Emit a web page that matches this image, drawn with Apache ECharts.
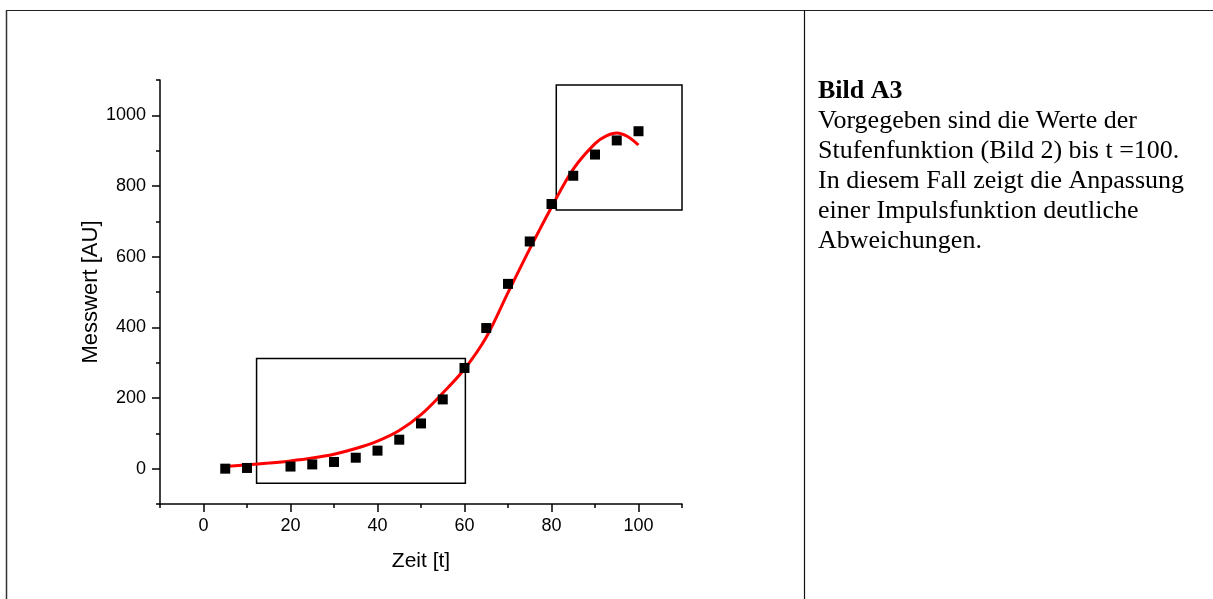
<!DOCTYPE html>
<html>
<head>
<meta charset="UTF-8">
<title>Bild A3</title>
<script src="https://cdn.jsdelivr.net/npm/echarts@6/dist/echarts.min.js"></script>
<style>
  html, body { margin: 0; padding: 0; background: #fff; }
  #main { width: 1213px; height: 599px; }
</style>
</head>
<body>
<div id="main"></div>
<script>
// measured points (step function values up to t = 100)
var zeit = [5, 10, 20, 25, 30, 35, 40, 45, 50, 55, 60, 65, 70, 75, 80, 85, 90, 95, 100];
var messwert = [0, 2, 6, 12, 19, 31, 51, 82, 128, 196, 285, 398, 523, 643, 749, 829, 889, 929, 955];

// fitted impulse function
var fitT = [5, 10, 15, 20, 25, 30, 35, 40, 45, 50, 55, 60, 65, 70, 75, 80, 85, 90, 92.5, 95, 97.5, 100];
var fitY = [6, 11, 16, 22, 30, 41, 57, 78, 108, 153, 214, 282, 372, 498, 622, 740, 848, 920, 941, 950, 940, 916];

// highlighted regions [tFrom, yFrom, tTo, yTo]
var boxes = [
  [12.2, -41, 60.2, 312],
  [81.1, 732, 110, 1086]
];

var xMajor = [0, 20, 40, 60, 80, 100];
var xMinor = [-10, 10, 30, 50, 70, 90, 110];
var yMajor = [0, 200, 400, 600, 800, 1000];
var yMinor = [-100, 100, 300, 500, 700, 900, 1100];

var captionTitle = 'Bild A3';
var captionLines = [
  'Vorgegeben sind die Werte der',
  'Stufenfunktion (Bild 2) bis t =100.',
  'In diesem Fall zeigt die Anpassung',
  'einer Impulsfunktion deutliche',
  'Abweichungen.'
];

var sans = '"Liberation Sans", Arial, sans-serif';
var serif = '"Liberation Serif", "Times New Roman", serif';

var myChart = echarts.init(document.getElementById('main'));

var graphics = [
  { type: 'line', shape: { x1: 6, y1: 10.5, x2: 1213, y2: 10.5 }, style: { stroke: '#222', lineWidth: 1.2 } },
  { type: 'line', shape: { x1: 6.5, y1: 10, x2: 6.5, y2: 599 }, style: { stroke: '#333', lineWidth: 1.5 } },
  { type: 'line', shape: { x1: 804.5, y1: 10, x2: 804.5, y2: 599 }, style: { stroke: '#111', lineWidth: 1.2 } },
  { type: 'text', x: 818, y: 91, style: { text: captionTitle, font: 'bold 26px ' + serif, fill: '#000', verticalAlign: 'middle' } }
];
captionLines.forEach(function (line, i) {
  graphics.push({
    type: 'text', x: 818, y: 121.5 + i * 30,
    style: { text: line, font: '26px ' + serif, fill: '#000', verticalAlign: 'middle' }
  });
});

function valueAxis(range, extra) {
  var base = {
    type: 'value',
    min: range[0],
    max: range[1],
    splitLine: { show: false },
    axisLine: { show: false, onZero: false }
  };
  return Object.assign(base, extra);
}

function plain(v) { return String(v); }

myChart.setOption({
  animation: false,
  grid: { left: 160, top: 80, width: 522, height: 424, containLabel: false, outerBoundsMode: 'none' },
  graphic: graphics,
  xAxis: [
    valueAxis([-10, 110], {
      position: 'bottom',
      name: 'Zeit [t]',
      nameLocation: 'middle',
      nameGap: 47,
      nameTextStyle: { fontFamily: sans, fontSize: 21, color: '#000' },
      axisLine: { show: true, onZero: false, lineStyle: { color: '#000', width: 1.5 } },
      axisTick: { show: true, length: 8, customValues: xMajor, lineStyle: { color: '#000', width: 1.5 } },
      axisLabel: { customValues: xMajor, margin: 13, fontFamily: sans, fontSize: 18, color: '#000', formatter: plain }
    }),
    valueAxis([-10, 110], {
      position: 'bottom',
      axisTick: { show: true, length: 4, customValues: xMinor, lineStyle: { color: '#000', width: 1.5 } },
      axisLabel: { show: false }
    })
  ],
  yAxis: [
    valueAxis([-100, 1100], {
      position: 'left',
      name: 'Messwert [AU]',
      nameLocation: 'middle',
      nameRotate: 90,
      nameGap: 54,
      nameTextStyle: { fontFamily: sans, fontSize: 22, color: '#000' },
      axisLine: { show: true, onZero: false, lineStyle: { color: '#000', width: 1.5 } },
      axisTick: { show: true, length: 8, customValues: yMajor, lineStyle: { color: '#000', width: 1.5 } },
      axisLabel: { customValues: yMajor, margin: 14, fontFamily: sans, fontSize: 18, color: '#000', formatter: plain }
    }),
    valueAxis([-100, 1100], {
      position: 'left',
      axisTick: { show: true, length: 4, customValues: yMinor, lineStyle: { color: '#000', width: 1.5 } },
      axisLabel: { show: false }
    })
  ],
  series: [
    {
      type: 'line',
      data: fitT.map(function (t, i) { return [t, fitY[i]]; }),
      smooth: 0.35,
      symbol: 'none',
      lineStyle: { color: '#ff0000', width: 3 },
      z: 3
    },
    {
      type: 'scatter',
      data: zeit.map(function (t, i) { return [t, messwert[i]]; }),
      symbol: 'rect',
      symbolSize: 10,
      itemStyle: { color: '#000', opacity: 1 },
      z: 4,
      markArea: {
        silent: true,
        itemStyle: { color: 'rgba(0,0,0,0)', borderColor: '#000', borderWidth: 1.5 },
        data: boxes.map(function (b) { return [{ coord: [b[0], b[1]] }, { coord: [b[2], b[3]] }]; })
      }
    }
  ]
});
</script>
</body>
</html>
